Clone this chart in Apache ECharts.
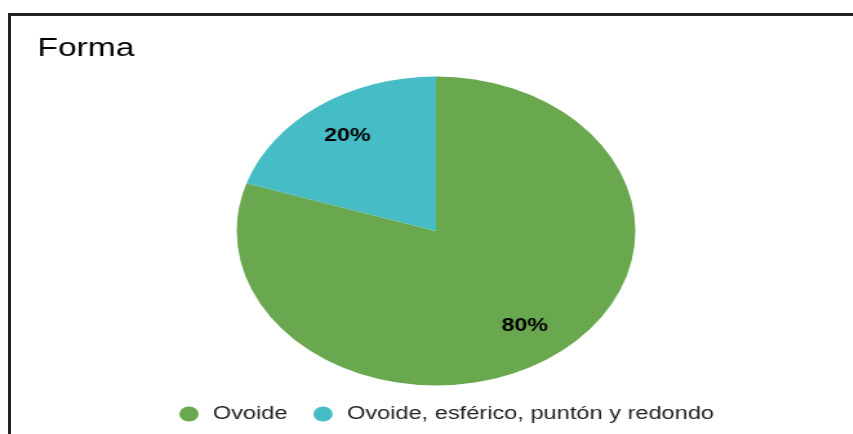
<!DOCTYPE html>
<html>
<head>
<meta charset="utf-8">
<script src="https://cdn.jsdelivr.net/npm/echarts@6/dist/echarts.min.js"></script>
<style>
  html, body { margin: 0; padding: 0; background: #fff; overflow: hidden; }
  #frame {
    position: absolute; left: 8px; top: 13px; width: 900px; height: 500px;
    border-top: 3px solid #222; border-left: 3px solid #222;
  }
  /* the reference is stretched horizontally, so draw narrow and scale */
  #main {
    position: absolute; left: 0; top: 0; width: 661px; height: 434px;
    transform: scaleX(1.29); transform-origin: 0 0;
  }
</style>
</head>
<body>
<div id="frame"></div>
<div id="main"></div>
<script>
var titleText = 'Forma';
var categories = ['Ovoide', 'Ovoide, esférico, puntón y redondo'];
var values = [80, 20];
var colors = ['#6aa84f', '#46bdc6'];

var font = 'Liberation Sans, Arial, sans-serif';
var pieData = categories.map(function (name, i) {
    return { name: name, value: values[i], itemStyle: { color: colors[i] } };
});

var myChart = echarts.init(document.getElementById('main'));
var option = {
    animation: false,
    title: {
        text: titleText,
        left: 24,
        top: 31,
        textStyle: { fontFamily: font, fontSize: 26, fontWeight: 'normal', color: '#000' }
    },
    legend: {
        left: 134,
        top: 400,
        icon: 'circle',
        itemWidth: 15,
        itemHeight: 15,
        itemGap: 20,
        data: categories,
        textStyle: { fontFamily: font, fontSize: 18.3, color: '#222', padding: [0, 0, 0, 6] }
    },
    series: [{
        name: titleText,
        type: 'pie',
        center: [338, 231],
        radius: 154.5,
        startAngle: 90,
        clockwise: true,
        label: { show: false },
        labelLine: { show: false },
        emphasis: { disabled: true },
        data: pieData
    }, {
        // invisible ring only used to place the percent labels further out
        name: 'labels',
        type: 'pie',
        center: [338, 231],
        radius: [100, 128],
        startAngle: 90,
        clockwise: true,
        silent: true,
        itemStyle: { color: 'rgba(0,0,0,0)' },
        label: {
            show: true,
            position: 'inside',
            formatter: '{d}%',
            fontFamily: font,
            fontSize: 18,
            fontWeight: 'bold',
            color: '#000'
        },
        labelLine: { show: false },
        data: categories.map(function (name, i) { return { name: name, value: values[i] }; })
    }]
};
myChart.setOption(option);
</script>
</body>
</html>
